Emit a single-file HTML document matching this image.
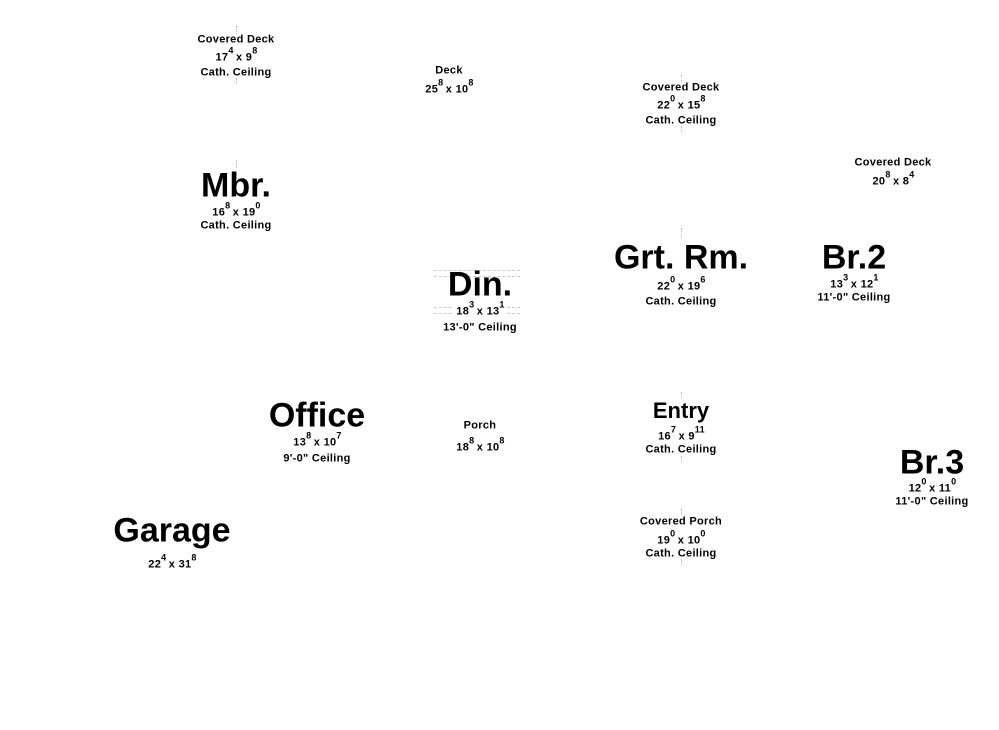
<!DOCTYPE html>
<html><head><meta charset="utf-8"><style>
body{margin:0;width:999px;height:730px;background:#fff;position:relative;overflow:hidden;font-family:"Liberation Sans",Arial,sans-serif;font-weight:bold;color:#000}
.t{position:absolute;transform:translate(-50%,-40%);white-space:nowrap;font-size:11px;line-height:1;letter-spacing:0.3px}
.b{font-size:34px;letter-spacing:0;transform:translate(-50%,-48%)}
.m{font-size:22px;letter-spacing:0}
.s{font-size:9px;position:relative;top:-7px;margin-left:0;margin-right:-1px}
.v{position:absolute;width:0;border-left:1px dotted #bbb}
.h{position:absolute;height:0;border-top:1px dashed #ccc}
</style></head><body>
<div class="v" style="left:236px;top:26px;height:8px"></div>
<div class="v" style="left:236px;top:78px;height:6px"></div>
<div class="t" style="left:236px;top:39px">Covered Deck</div>
<div class="t" style="left:236px;top:57px">17<span class="s">4</span> x 9<span class="s">8</span></div>
<div class="t" style="left:236px;top:72px">Cath. Ceiling</div>

<div class="t" style="left:449px;top:70px">Deck</div>
<div class="t" style="left:449px;top:89px">25<span class="s">8</span> x 10<span class="s">8</span></div>

<div class="v" style="left:681px;top:75px;height:6px"></div>
<div class="v" style="left:681px;top:126px;height:6px"></div>
<div class="t" style="left:681px;top:87px">Covered Deck</div>
<div class="t" style="left:681px;top:105px">22<span class="s">0</span> x 15<span class="s">8</span></div>
<div class="t" style="left:681px;top:120px">Cath. Ceiling</div>

<div class="t" style="left:893px;top:162px">Covered Deck</div>
<div class="t" style="left:893px;top:181px">20<span class="s">8</span> x 8<span class="s">4</span></div>

<div class="v" style="left:236px;top:160px;height:8px"></div>
<div class="t b" style="left:236px;top:185px">Mbr.</div>
<div class="t" style="left:236px;top:212px">16<span class="s">8</span> x 19<span class="s">0</span></div>
<div class="t" style="left:236px;top:225px">Cath. Ceiling</div>

<div class="h" style="left:434px;top:270px;width:86px"></div>
<div class="h" style="left:434px;top:276px;width:86px"></div>
<div class="h" style="left:434px;top:307px;width:86px"></div>
<div class="h" style="left:434px;top:313px;width:86px"></div>
<div class="t b" style="left:480px;top:284px">Din.</div>
<div class="t" style="left:480px;top:311px;background:#fff;padding:0 3px">18<span class="s">3</span> x 13<span class="s">1</span></div>
<div class="t" style="left:480px;top:327px">13'-0" Ceiling</div>

<div class="v" style="left:681px;top:228px;height:10px"></div>
<div class="t b" style="left:681px;top:257px">Grt. Rm.</div>
<div class="t" style="left:681px;top:286px">22<span class="s">0</span> x 19<span class="s">6</span></div>
<div class="t" style="left:681px;top:301px">Cath. Ceiling</div>

<div class="t b" style="left:854px;top:257px">Br.2</div>
<div class="t" style="left:854px;top:284px">13<span class="s">3</span> x 12<span class="s">1</span></div>
<div class="t" style="left:854px;top:297px">11'-0" Ceiling</div>

<div class="t b" style="left:317px;top:415px">Office</div>
<div class="t" style="left:317px;top:442px">13<span class="s">8</span> x 10<span class="s">7</span></div>
<div class="t" style="left:317px;top:458px">9'-0" Ceiling</div>

<div class="t" style="left:480px;top:425px">Porch</div>
<div class="t" style="left:480px;top:447px">18<span class="s">8</span> x 10<span class="s">8</span></div>

<div class="v" style="left:681px;top:392px;height:6px"></div>
<div class="v" style="left:681px;top:456px;height:6px"></div>
<div class="t m" style="left:681px;top:409px">Entry</div>
<div class="t" style="left:681px;top:436px">16<span class="s">7</span> x 9<span class="s">11</span></div>
<div class="t" style="left:681px;top:449px">Cath. Ceiling</div>

<div class="t b" style="left:932px;top:462px">Br.3</div>
<div class="t" style="left:932px;top:488px">12<span class="s">0</span> x 11<span class="s">0</span></div>
<div class="t" style="left:932px;top:501px">11'-0" Ceiling</div>

<div class="t b" style="left:172px;top:530px">Garage</div>
<div class="t" style="left:172px;top:564px">22<span class="s">4</span> x 31<span class="s">8</span></div>

<div class="v" style="left:681px;top:509px;height:6px"></div>
<div class="v" style="left:681px;top:559px;height:6px"></div>
<div class="t" style="left:681px;top:521px">Covered Porch</div>
<div class="t" style="left:681px;top:540px">19<span class="s">0</span> x 10<span class="s">0</span></div>
<div class="t" style="left:681px;top:553px">Cath. Ceiling</div>
</body></html>
